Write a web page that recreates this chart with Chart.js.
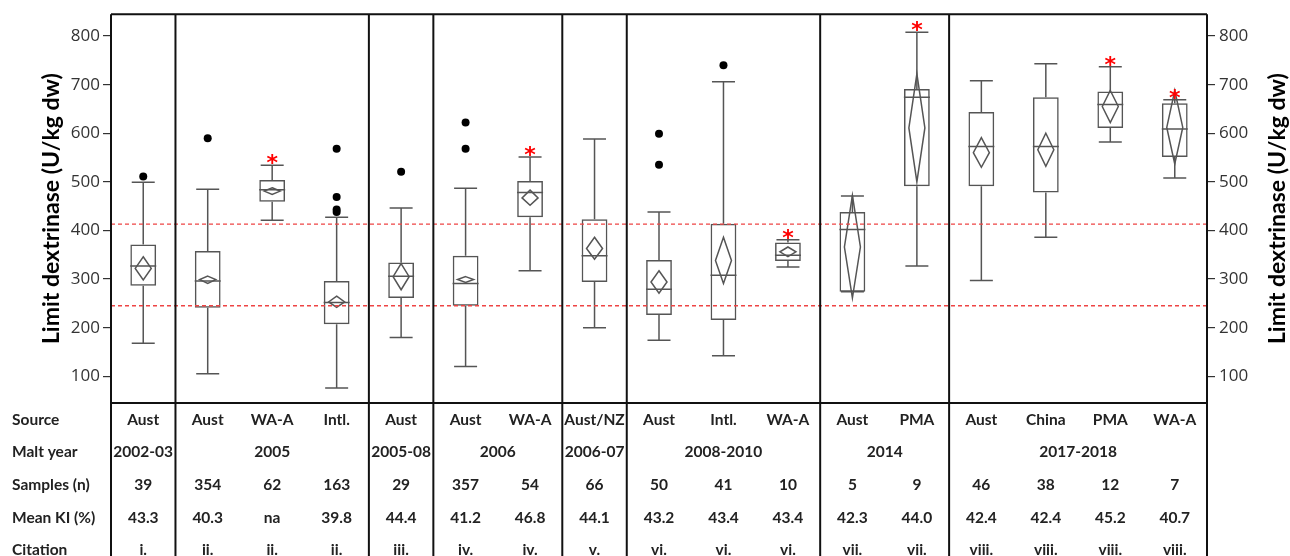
<!DOCTYPE html>
<html>
<head>
<meta charset="utf-8">
<script src="https://cdn.jsdelivr.net/npm/chart.js@4.4.1/dist/chart.umd.min.js"></script>
<style>
  html, body { margin: 0; padding: 0; background: #fff; }
  #wrap { width: 1290px; height: 556px; }
</style>
</head>
<body>
<div id="wrap"><canvas id="ldChart"></canvas></div>
<script>
// columns of the box plot (left to right)
const sources = ['Aust', 'Aust', 'WA-A', 'Intl.', 'Aust', 'Aust', 'WA-A', 'Aust/NZ', 'Aust', 'Intl.', 'WA-A', 'Aust', 'PMA', 'Aust', 'China', 'PMA', 'WA-A'];
const maltYears = ['2002-03', '2005', '2005-08', '2006', '2006-07', '2008-2010', '2014', '2017-2018'];
const groupSizes = [1, 3, 1, 2, 1, 3, 2, 4];
const samples = ['39', '354', '62', '163', '29', '357', '54', '66', '50', '41', '10', '5', '9', '46', '38', '12', '7'];
const meanKI = ['43.3', '40.3', 'na', '39.8', '44.4', '41.2', '46.8', '44.1', '43.2', '43.4', '43.4', '42.3', '44.0', '42.4', '42.4', '45.2', '40.7'];
const citations = ['i.', 'ii.', 'ii.', 'ii.', 'iii.', 'iv.', 'iv.', 'v.', 'vi.', 'vi.', 'vi.', 'vii.', 'vii.', 'viii.', 'viii.', 'viii.', 'viii.'];

// limit dextrinase (U/kg dw)
const whiskerLow  = [168, 105, 421, 76, 180, 120, 317, 200, 174, 142, 325, 274, 327, 297, 386, 582, 508];
const q1          = [286, 241, 459, 207, 261, 245, 427, 294, 226, 216, 337, 274, 491, 491, 478, 611, 551];
const median      = [327, 296, 484, 252, 306, 291, 478, 348, 279, 308, 349, 402, 674, 573, 573, 659, 609];
const q3          = [371, 358, 504, 296, 334, 348, 502, 423, 339, 414, 375, 438, 691, 644, 674, 686, 662];
const whiskerHigh = [499, 485, 534, 427, 446, 487, 551, 588, 438, 706, 381, 471, 808, 708, 743, 737, 669];
const mean        = [322, 299, 481, 253, 305, 299, 467, 363, 294, 338, 356, 366, 611, 560, 566, 655, 612];
const ciLow       = [298, 291, 474, 242, 278, 293, 452, 341, 271, 291, 346, 261, 500, 530, 532, 622, 537];
const ciHigh      = [346, 306, 488, 265, 332, 305, 483, 386, 317, 386, 366, 472, 722, 591, 600, 688, 688];
const outliers    = [[511], [590], [], [568, 469, 443, 438], [521], [622, 568], [], [], [599, 535], [740], [], [], [], [], [], [], []];
const significant = [false, false, true, false, false, false, true, false, false, false, true, false, true, false, false, true, true];

const refLines = [413, 245];
const yTicks = [100, 200, 300, 400, 500, 600, 700, 800];
const yTitle = 'Limit dextrinase (U/kg dw)';
const rowNames = ['Source', 'Malt year', 'Samples (n)', 'Mean KI (%)', 'Citation'];

// unique category keys: source + malt year
const yearOfColumn = [];
groupSizes.forEach((n, g) => { for (let k = 0; k < n; k++) yearOfColumn.push(maltYears[g]); });
const columnKeys = sources.map((s, i) => s + ' ' + yearOfColumn[i]);

const outlierPoints = [];
outliers.forEach((list, i) => list.forEach(v => outlierPoints.push({ x: columnKeys[i], y: v })));

const boxExtras = {
    id: 'boxExtras',
    afterDatasetsDraw(chart) {
        const ctx = chart.ctx;
        const x = chart.scales.x, y = chart.scales.y;
        ctx.save();
        ctx.strokeStyle = '#555';
        ctx.lineWidth = 1.5;
        sources.forEach((s, i) => {
            const cx = x.getPixelForValue(i);
            const cap = 11.5, bw = 13, dw = 8;
            ctx.beginPath();
            // whiskers
            ctx.moveTo(cx, y.getPixelForValue(q3[i]));
            ctx.lineTo(cx, y.getPixelForValue(whiskerHigh[i]));
            ctx.moveTo(cx - cap, y.getPixelForValue(whiskerHigh[i]));
            ctx.lineTo(cx + cap, y.getPixelForValue(whiskerHigh[i]));
            ctx.moveTo(cx, y.getPixelForValue(q1[i]));
            ctx.lineTo(cx, y.getPixelForValue(whiskerLow[i]));
            ctx.moveTo(cx - cap, y.getPixelForValue(whiskerLow[i]));
            ctx.lineTo(cx + cap, y.getPixelForValue(whiskerLow[i]));
            // median
            ctx.moveTo(cx - bw, y.getPixelForValue(median[i]));
            ctx.lineTo(cx + bw, y.getPixelForValue(median[i]));
            ctx.stroke();
            // mean diamond
            ctx.beginPath();
            ctx.moveTo(cx, y.getPixelForValue(ciHigh[i]));
            ctx.lineTo(cx + dw, y.getPixelForValue(mean[i]));
            ctx.lineTo(cx, y.getPixelForValue(ciLow[i]));
            ctx.lineTo(cx - dw, y.getPixelForValue(mean[i]));
            ctx.closePath();
            ctx.stroke();
            if (significant[i]) {
                ctx.fillStyle = '#f00';
                ctx.font = 'bold 22px "DejaVu Sans"';
                ctx.textAlign = 'center';
                ctx.textBaseline = 'alphabetic';
                ctx.fillText('*', cx, y.getPixelForValue(whiskerHigh[i]) + 5);
            }
        });
        // reference lines
        ctx.strokeStyle = '#ee4444';
        ctx.lineWidth = 1.4;
        ctx.setLineDash([4, 3]);
        refLines.forEach(v => {
            const py = y.getPixelForValue(v);
            ctx.beginPath();
            ctx.moveTo(chart.chartArea.left, py);
            ctx.lineTo(chart.chartArea.right, py);
            ctx.stroke();
        });
        ctx.restore();
    },
    afterDraw(chart) {
        const ctx = chart.ctx;
        const x = chart.scales.x;
        const area = chart.chartArea;
        const H = chart.height;
        const step = x.getPixelForValue(1) - x.getPixelForValue(0);
        ctx.save();
        ctx.strokeStyle = '#111';
        ctx.lineWidth = 2;
        ctx.beginPath();
        ctx.moveTo(area.left, area.top);
        ctx.lineTo(area.right, area.top);
        ctx.moveTo(area.left, area.bottom);
        ctx.lineTo(area.right, area.bottom);
        ctx.moveTo(area.left, area.top);
        ctx.lineTo(area.left, H);
        ctx.moveTo(area.right, area.top);
        ctx.lineTo(area.right, H);
        let idx = 0;
        groupSizes.forEach((n, g) => {
            idx += n;
            if (g < groupSizes.length - 1) {
                const sx = x.getPixelForValue(idx) - step / 2;
                ctx.moveTo(sx, area.top);
                ctx.lineTo(sx, H);
            }
        });
        ctx.stroke();

        // table below the plot
        const rowY = [420, 452, 485, 518, 550];
        ctx.fillStyle = '#222';
        ctx.font = 'bold 15.5px Lato';
        ctx.textBaseline = 'middle';
        ctx.textAlign = 'left';
        rowNames.forEach((r, k) => ctx.fillText(r, 12, rowY[k]));
        ctx.textAlign = 'center';
        sources.forEach((s, i) => {
            const cx = x.getPixelForValue(i);
            ctx.fillText(s, cx, rowY[0]);
            ctx.fillText(samples[i], cx, rowY[2]);
            ctx.fillText(meanKI[i], cx, rowY[3]);
            ctx.fillText(citations[i], cx, rowY[4]);
        });
        let start = 0;
        groupSizes.forEach((n, g) => {
            const cx = (x.getPixelForValue(start) + x.getPixelForValue(start + n - 1)) / 2;
            ctx.fillText(maltYears[g], cx, rowY[1]);
            start += n;
        });

        // axis titles, both reading bottom to top
        ctx.fillStyle = '#000';
        ctx.font = 'bold 23px Lato';
        const my = (area.top + area.bottom) / 2;
        [52, 1278].forEach(tx => {
            ctx.save();
            ctx.translate(tx, my);
            ctx.rotate(-Math.PI / 2);
            ctx.fillText(yTitle, 0, 0);
            ctx.restore();
        });
        ctx.restore();
    }
};

const tickFont = { family: 'Open Sans', size: 17 };

new Chart(document.getElementById('ldChart'), {
    type: 'bar',
    data: {
        labels: columnKeys,
        datasets: [{
            label: 'IQR',
            data: q1.map((v, i) => [v, q3[i]]),
            backgroundColor: 'rgba(0,0,0,0)',
            borderColor: '#555',
            borderWidth: 1.5,
            borderSkipped: false,
            categoryPercentage: 1,
            barPercentage: 0.4
        }, {
            type: 'scatter',
            label: 'Outliers',
            data: outlierPoints,
            pointRadius: 4,
            pointBackgroundColor: '#000',
            pointBorderWidth: 0
        }]
    },
    options: {
        responsive: true,
        maintainAspectRatio: false,
        animation: false,
        layout: { padding: { top: 13, bottom: 153, left: 0, right: 0 } },
        plugins: { legend: { display: false }, tooltip: { enabled: false } },
        scales: {
            x: { type: 'category', display: false, offset: true },
            y: {
                position: 'left', min: 45, max: 845,
                afterBuildTicks: s => { s.ticks = yTicks.map(v => ({ value: v })); },
                afterFit: s => { s.width = 111; },
                grid: { drawOnChartArea: false, tickLength: 8, color: '#333', lineWidth: 1.2 },
                border: { display: false },
                ticks: { font: tickFont, color: '#333', padding: 3 }
            },
            y2: {
                position: 'right', min: 45, max: 845,
                afterBuildTicks: s => { s.ticks = yTicks.map(v => ({ value: v })); },
                afterFit: s => { s.width = 83; },
                grid: { drawOnChartArea: false, tickLength: 8, color: '#333', lineWidth: 1.2 },
                border: { display: false },
                ticks: { font: tickFont, color: '#333', padding: 4 }
            }
        }
    },
    plugins: [boxExtras]
});
</script>
</body>
</html>
